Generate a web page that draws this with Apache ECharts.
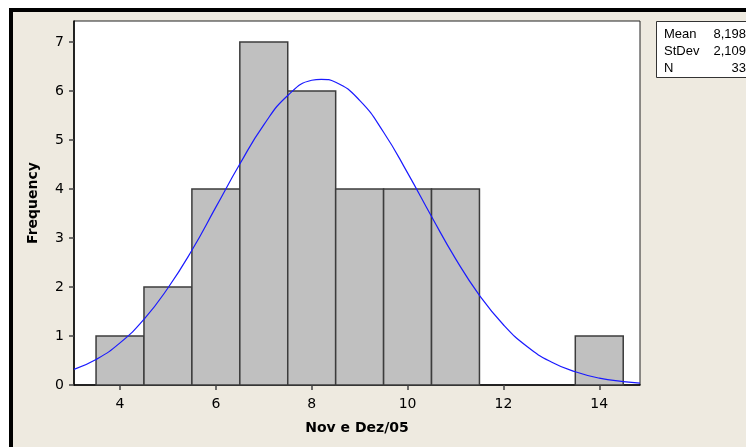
<!DOCTYPE html>
<html>
<head>
<meta charset="utf-8">
<script src="https://cdn.jsdelivr.net/npm/echarts@6/dist/echarts.min.js"></script>
<style>
  html, body { margin: 0; padding: 0; background: #ffffff; }
  #chart { width: 746px; height: 447px; }
</style>
</head>
<body>
<div id="chart"></div>
<script>
// Histogram bins (class width 1) and their counts
const binStarts = [3.5, 4.5, 5.5, 6.5, 7.5, 8.5, 9.5, 10.5, 11.5, 12.5, 13.5];
const binCounts = [1, 2, 4, 7, 6, 4, 4, 4, 0, 0, 1];

// Fitted normal curve, sampled points (x, expected frequency)
const curveX = [3.04, 3.5, 4, 4.5, 5, 5.5, 6, 6.5, 7, 7.5, 8, 8.2, 8.5, 9, 9.5, 10,
                10.5, 11, 11.5, 12, 12.5, 13, 13.5, 14, 14.5, 14.85];
const curveY = [0.32, 0.52, 0.86, 1.34, 1.98, 2.75, 3.63, 4.51, 5.31, 5.91, 6.22, 6.24, 6.18, 5.81, 5.16, 4.33,
                3.44, 2.58, 1.83, 1.23, 0.78, 0.47, 0.27, 0.14, 0.07, 0.04];

// Tick labels
const xTicks = [4, 6, 8, 10, 12, 14];
const yTicks = [0, 1, 2, 3, 4, 5, 6, 7];

// Summary statistics
const statNames = ['Mean', 'StDev', 'N'];
const statValues = ['8,198', '2,109', '33'];

const barData = [];
binStarts.forEach((s, i) => {
  if (binCounts[i] > 0) barData.push([s, s + 1, binCounts[i]]);
});
const lineData = curveX.map((x, i) => [x, curveY[i]]);

const tickFont = { fontFamily: 'DejaVu Sans', fontSize: 14, color: '#000' };

const statTexts = [];
statNames.forEach((n, i) => {
  statTexts.push({
    type: 'text', x: 664, y: 34 + i * 17,
    style: { text: n, font: '13px "Liberation Sans"', fill: '#000', verticalAlign: 'middle' }
  });
  statTexts.push({
    type: 'text', x: 746, y: 34 + i * 17,
    style: { text: statValues[i], font: '13px "Liberation Sans"', fill: '#000',
             align: 'right', verticalAlign: 'middle' }
  });
});

const chart = echarts.init(document.getElementById('chart'), null, { renderer: 'canvas' });
chart.setOption({
  animation: false,
  backgroundColor: '#ffffff',
  graphic: [
    // framed beige panel
    { type: 'rect', left: 9, top: 8, z: -10,
      shape: { width: 746, height: 447 }, style: { fill: '#000000' } },
    { type: 'rect', left: 13, top: 12, z: -9,
      shape: { width: 746, height: 447 }, style: { fill: '#EEEAE0' } },
    // statistics box
    { type: 'rect', left: 656, top: 21, z: 5,
      shape: { width: 100, height: 56 }, style: { fill: '#ffffff', stroke: '#333', lineWidth: 1 } },
    ...statTexts.map(t => Object.assign({ z: 6 }, t))
  ],
  grid: {
    left: 74, top: 21, right: 106, bottom: 62,
    show: true, backgroundColor: '#ffffff', borderColor: '#222', borderWidth: 1
  },
  xAxis: {
    type: 'value', min: 3.04, max: 14.85,
    name: 'Nov e Dez/05', nameLocation: 'middle', nameGap: 36,
    nameTextStyle: { fontFamily: 'DejaVu Sans', fontSize: 14, fontWeight: 'bold', color: '#000' },
    axisLine: { show: true, lineStyle: { color: '#000', width: 1.5 } },
    axisTick: { show: true, customValues: xTicks, length: 5, lineStyle: { color: '#444', width: 1.5 } },
    axisLabel: Object.assign({ customValues: xTicks, margin: 12 }, tickFont),
    splitLine: { show: false }
  },
  yAxis: {
    type: 'value', min: 0, max: 7.43,
    name: 'Frequency', nameLocation: 'middle', nameGap: 34,
    nameTextStyle: { fontFamily: 'DejaVu Sans', fontSize: 14, fontWeight: 'bold', color: '#000' },
    axisLine: { show: true, lineStyle: { color: '#000', width: 1.5 } },
    axisTick: { show: true, customValues: yTicks, length: 5, lineStyle: { color: '#444', width: 1.5 } },
    axisLabel: Object.assign({ customValues: yTicks, margin: 10 }, tickFont),
    splitLine: { show: false }
  },
  series: [
    {
      type: 'custom',
      data: barData,
      encode: { x: [0, 1], y: 2 },
      z: 2,
      renderItem(params, api) {
        const top = api.coord([api.value(0), api.value(2)]);
        const base = api.coord([api.value(1), 0]);
        return {
          type: 'rect',
          shape: { x: top[0], y: top[1], width: base[0] - top[0], height: base[1] - top[1] },
          style: { fill: '#C0C0C0', stroke: '#3c3c3c', lineWidth: 1.5 }
        };
      }
    },
    {
      type: 'line',
      data: lineData,
      smooth: true,
      showSymbol: false,
      z: 3,
      lineStyle: { color: '#1a1aff', width: 1.2 }
    }
  ]
});
</script>
</body>
</html>
